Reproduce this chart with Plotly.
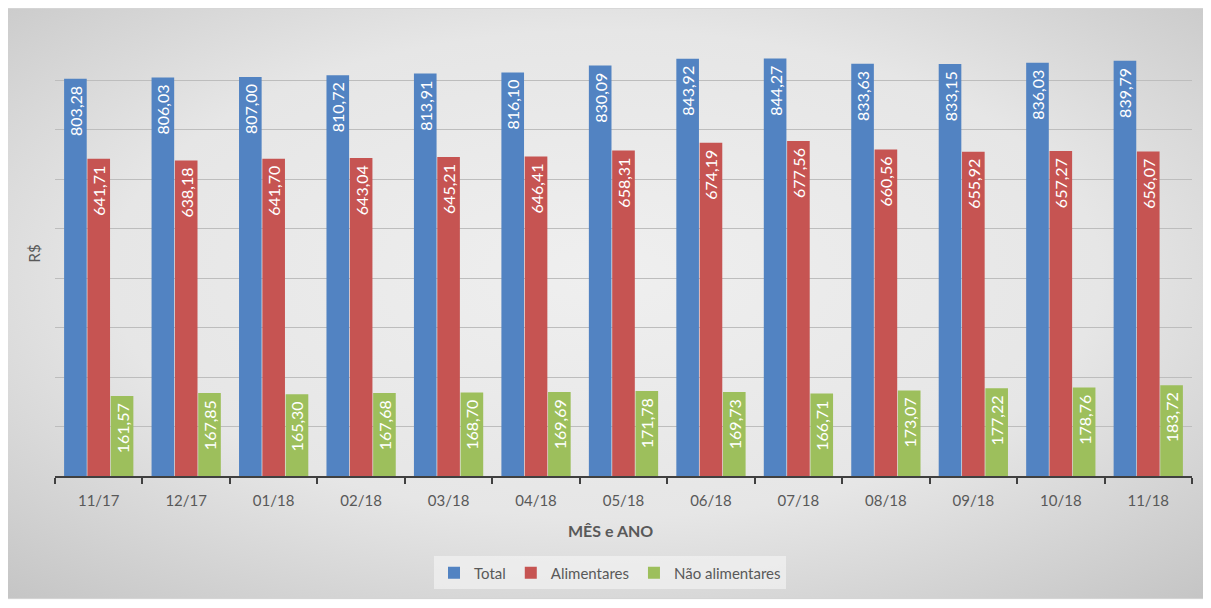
import plotly.graph_objects as go
import base64

categories = ["11/17", "12/17", "01/18", "02/18", "03/18", "04/18", "05/18",
              "06/18", "07/18", "08/18", "09/18", "10/18", "11/18"]
total = [803.28, 806.03, 807.00, 810.72, 813.91, 816.10, 830.09,
         843.92, 844.27, 833.63, 833.15, 836.03, 839.79]
alimentares = [641.71, 638.18, 641.70, 643.04, 645.21, 646.41, 658.31,
               674.19, 677.56, 660.56, 655.92, 657.27, 656.07]
nao_alimentares = [161.57, 167.85, 165.30, 167.68, 168.70, 169.69, 171.78,
                   169.73, 166.71, 173.07, 177.22, 178.76, 183.72]

FONT = "Lato, 'Open Sans', sans-serif"

series = [("Total", total, "#5283c2"),
          ("Alimentares", alimentares, "#c65452"),
          ("Não alimentares", nao_alimentares, "#9dbf5c")]

fig = go.Figure()
for name, vals, col in series:
    fig.add_trace(go.Bar(
        x=categories, y=vals, name=name,
        marker=dict(color=col, line=dict(width=0)),
        texttemplate="%{y:.2f}\u00a0", textposition="inside",
        insidetextanchor="end", textangle=-90,
        textfont=dict(color="white", size=16, family=FONT),
        cliponaxis=False,
    ))

svg = """<svg xmlns='http://www.w3.org/2000/svg' width='1200' height='600' preserveAspectRatio='none'>
<defs><radialGradient id='g' cx='50%' cy='45%' r='75%'>
<stop offset='0%' stop-color='#efefef'/>
<stop offset='55%' stop-color='#e6e6e6'/>
<stop offset='100%' stop-color='#c4c4c4'/>
</radialGradient></defs>
<rect width='1200' height='600' fill='url(#g)'/></svg>"""
uri = "data:image/svg+xml;base64," + base64.b64encode(svg.encode()).decode()

# page body has an 8px margin: figure origin sits at (8, 8) of the window
OFF = 8
W, H = 1195, 592
L, T = 55 - OFF, 31 - OFF
R = W - (1192 - OFF)
B = H - (481 - OFF)
pw, ph = W - L - R, H - T - B
px = lambda x: (x - OFF - L) / pw
py = lambda y: (H - B - (y - OFF)) / ph

fig.update_layout(
    width=W, height=H,
    margin=dict(l=L, r=R, t=T, b=B, pad=0),
    paper_bgcolor="rgba(0,0,0,0)", plot_bgcolor="rgba(0,0,0,0)",
    separators=",.",
    barmode="group", bargap=0.2, bargroupgap=0.03,
    uniformtext=dict(minsize=16, mode="show"),
    font=dict(family=FONT, color="#595959", size=15),
    showlegend=True,
    legend=dict(orientation="h", x=px(610), xanchor="center", y=py(579), yanchor="middle",
                bgcolor="rgba(242,242,242,0.7)", font=dict(size=15, color="#595959"),
                itemwidth=30, traceorder="normal"),
    xaxis=dict(showgrid=False, showline=True, linecolor="#404040", linewidth=2,
               ticks="outside", tickson="boundaries", ticklen=6, tickwidth=2,
               tickcolor="#404040", tickfont=dict(size=15, color="#595959"),
               ticklabelstandoff=10, fixedrange=True),
    yaxis=dict(range=[0, 900], dtick=100, showgrid=True, gridcolor="#bdbdbd",
               gridwidth=1, showticklabels=False, zeroline=False, showline=False,
               fixedrange=True),
    images=[dict(source=uri, xref="paper", yref="paper", x=px(6), y=py(8),
                 sizex=px(1205) - px(6), sizey=py(8) - py(605),
                 sizing="stretch", layer="below", xanchor="left", yanchor="top")],
    shapes=[dict(type="rect", xref="paper", yref="paper", x0=px(6), x1=px(1205),
                 y0=py(605), y1=py(8), line=dict(color="#d0d0d0", width=1),
                 layer="below")],
    annotations=[
        dict(text="<b>MÊS e ANO</b>", xref="paper", yref="paper", x=px(610), y=py(536),
             xanchor="center", yanchor="middle", showarrow=False,
             font=dict(size=16, color="#595959")),
        dict(text="R$", xref="paper", yref="paper", x=px(33), y=py(256),
             xanchor="center", yanchor="middle", showarrow=False, textangle=-90,
             font=dict(size=15, color="#595959")),
    ],
)

fig.write_html("out.html")
